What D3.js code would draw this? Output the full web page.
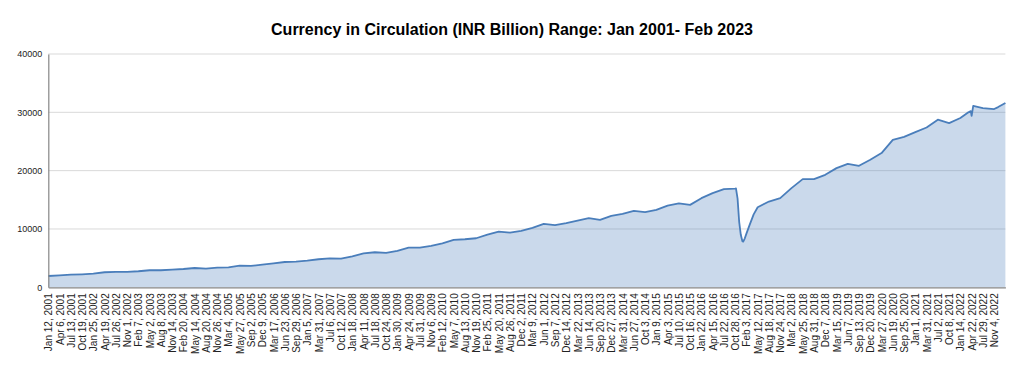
<!DOCTYPE html>
<html>
<head>
<meta charset="utf-8">
<script src="https://cdn.jsdelivr.net/npm/d3@7"></script>
<style>
  body { margin: 0; background: #fff; }
  text { font-family: "Liberation Sans", Arial, sans-serif; }
</style>
</head>
<body>
<div id="chart"></div>
<script>
// category labels shown on the x axis (every 14th week)
const tickLabels = [
  "Jan 12, 2001","Apr 6, 2001","Jul 13, 2001","Oct 19, 2001","Jan 25, 2002","Apr 19, 2002",
  "Jul 26, 2002","Nov 1, 2002","Feb 7, 2003","May 2, 2003","Aug 8, 2003","Nov 14, 2003",
  "Feb 20, 2004","May 14, 2004","Aug 20, 2004","Nov 26, 2004","Mar 4, 2005","May 27, 2005",
  "Sep 2, 2005","Dec 9, 2005","Mar 17, 2006","Jun 23, 2006","Sep 29, 2006","Jan 5, 2007",
  "Mar 31, 2007","Jul 6, 2007","Oct 12, 2007","Jan 18, 2008","Apr 11, 2008","Jul 18, 2008",
  "Oct 24, 2008","Jan 30, 2009","Apr 24, 2009","Jul 31, 2009","Nov 6, 2009","Feb 12, 2010",
  "May 7, 2010","Aug 13, 2010","Nov 19, 2010","Feb 25, 2011","May 20, 2011","Aug 26, 2011",
  "Dec 2, 2011","Mar 9, 2012","Jun 1, 2012","Sep 7, 2012","Dec 14, 2012","Mar 22, 2013",
  "Jun 14, 2013","Sep 20, 2013","Dec 27, 2013","Mar 31, 2014","Jun 27, 2014","Oct 3, 2014",
  "Jan 9, 2015","Apr 3, 2015","Jul 10, 2015","Oct 16, 2015","Jan 22, 2016","Apr 15, 2016",
  "Jul 22, 2016","Oct 28, 2016","Feb 3, 2017","May 12, 2017","Aug 18, 2017","Nov 24, 2017",
  "Mar 2, 2018","May 25, 2018","Aug 31, 2018","Dec 7, 2018","Mar 15, 2019","Jun 7, 2019",
  "Sep 13, 2019","Dec 20, 2019","Mar 27, 2020","Jun 19, 2020","Sep 25, 2020","Jan 1, 2021",
  "Mar 31, 2021","Jul 2, 2021","Oct 8, 2021","Jan 14, 2022","Apr 22, 2022","Jul 29, 2022",
  "Nov 4, 2022"
];
const lastDate = "Feb 10, 2023";

// currency in circulation, INR billion
const seriesDates = [
  "Jan 12, 2001","Apr 6, 2001","Jul 13, 2001","Oct 19, 2001","Jan 25, 2002","Apr 19, 2002",
  "Jul 26, 2002","Nov 1, 2002","Feb 7, 2003","May 2, 2003","Aug 8, 2003","Nov 14, 2003",
  "Feb 20, 2004","May 14, 2004","Aug 20, 2004","Nov 26, 2004","Mar 4, 2005","May 27, 2005",
  "Sep 2, 2005","Dec 9, 2005","Mar 17, 2006","Jun 23, 2006","Sep 29, 2006","Jan 5, 2007",
  "Mar 31, 2007","Jul 6, 2007","Oct 12, 2007","Jan 18, 2008","Apr 11, 2008","Jul 18, 2008",
  "Oct 24, 2008","Jan 30, 2009","Apr 24, 2009","Jul 31, 2009","Nov 6, 2009","Feb 12, 2010",
  "May 7, 2010","Aug 13, 2010","Nov 19, 2010","Feb 25, 2011","May 20, 2011","Aug 26, 2011",
  "Dec 2, 2011","Mar 9, 2012","Jun 1, 2012","Sep 7, 2012","Dec 14, 2012","Mar 22, 2013",
  "Jun 14, 2013","Sep 20, 2013","Dec 27, 2013","Mar 31, 2014","Jun 27, 2014","Oct 3, 2014",
  "Jan 9, 2015","Apr 3, 2015","Jul 10, 2015","Oct 16, 2015","Jan 22, 2016","Apr 15, 2016",
  "Jul 22, 2016","Oct 28, 2016","Nov 4, 2016","Nov 18, 2016","Dec 2, 2016","Dec 16, 2016",
  "Dec 30, 2016","Jan 6, 2017","Jan 20, 2017","Feb 3, 2017","Mar 3, 2017","Apr 7, 2017",
  "May 12, 2017","Aug 18, 2017","Nov 24, 2017","Mar 2, 2018","May 25, 2018","Aug 31, 2018",
  "Dec 7, 2018","Mar 15, 2019","Jun 7, 2019","Sep 13, 2019","Dec 20, 2019","Mar 27, 2020",
  "Jun 19, 2020","Sep 25, 2020","Jan 1, 2021","Mar 31, 2021","Jul 2, 2021","Oct 8, 2021",
  "Jan 14, 2022","Mar 25, 2022","Apr 15, 2022","Apr 22, 2022","May 6, 2022","Jul 29, 2022",
  "Nov 4, 2022","Dec 9, 2022","Feb 10, 2023"
];
const seriesValues = [
  1940, 2060, 2160, 2230, 2340, 2580,
  2630, 2630, 2750, 2920, 2920, 3030,
  3140, 3310, 3200, 3370, 3430, 3710,
  3660, 3880, 4120, 4340, 4400, 4570,
  4810, 4950, 4910, 5320, 5800, 6010,
  5890, 6230, 6800, 6800, 7090, 7550,
  8120, 8240, 8410, 9030, 9550, 9370,
  9670, 10180, 10870, 10650, 10990, 11440,
  11850, 11550, 12240, 12590, 13100, 12880,
  13270, 14010, 14400, 14130, 15280, 16140,
  16830, 16930, 16950, 15200, 11200, 9000,
  7900, 7830, 8400, 9200, 10700, 12500,
  13730, 14700, 15280, 17000, 18540, 18540,
  19280, 20430, 21170, 20830, 21860, 23010,
  25290, 25800, 26610, 27400, 28730, 28160,
  29020, 30000, 30200, 29400, 31100, 30730,
  30560, 30900, 31590
];

const yTicks = [0, 10000, 20000, 30000, 40000];

const parse = d3.timeParse("%b %d, %Y");
const data = seriesDates.map((d, i) => ({ date: parse(d), value: seriesValues[i] }));

const width = 1024, height = 370;
const plotLeft = 48.3, plotRight = 1005.4, plotTop = 54, plotBottom = 287.3;

const svg = d3.select("#chart").append("svg")
  .attr("width", width)
  .attr("height", height);

// category axis: labels are evenly spaced, so map through a piecewise time scale
const axisDates = tickLabels.concat([lastDate]).map(parse);
const step = (plotRight - plotLeft) / tickLabels.length;
const x = d3.scaleTime()
  .domain(axisDates)
  .range(axisDates.map((d, i) => plotLeft + i * step));

const y = d3.scaleLinear()
  .domain([0, 40000])
  .range([plotBottom, plotTop]);

// gridlines
svg.append("g")
  .selectAll("line")
  .data(yTicks.filter(d => d > 0))
  .join("line")
  .attr("x1", plotLeft)
  .attr("x2", plotRight)
  .attr("y1", d => y(d))
  .attr("y2", d => y(d))
  .attr("stroke", "#d9d9d9")
  .attr("stroke-width", 1);

// area + line
const area = d3.area()
  .x(d => x(d.date))
  .y0(y(0))
  .y1(d => y(d.value));

const line = d3.line()
  .x(d => x(d.date))
  .y(d => y(d.value));

svg.append("path")
  .datum(data)
  .attr("d", area)
  .attr("fill", "#4f81bd")
  .attr("fill-opacity", 0.3);

svg.append("path")
  .datum(data)
  .attr("d", line)
  .attr("fill", "none")
  .attr("stroke", "#4a7ebb")
  .attr("stroke-width", 1.8)
  .attr("stroke-linejoin", "round");

// y axis
const yAxis = svg.append("g")
  .attr("transform", `translate(${plotLeft},0)`)
  .call(d3.axisLeft(y).tickValues(yTicks).tickSize(0).tickPadding(6).tickFormat(d3.format("d")));
yAxis.select(".domain").attr("stroke", "#868686").attr("stroke-width", 1.2);
yAxis.selectAll("text")
  .attr("fill", "#222")
  .style("font-size", "9px");

// x axis
const xAxis = svg.append("g")
  .attr("transform", `translate(0,${plotBottom})`)
  .call(d3.axisBottom(x)
    .tickValues(tickLabels.map(parse))
    .tickSize(0)
    .tickFormat((d, i) => tickLabels[i]));
xAxis.select(".domain").attr("stroke", "#868686").attr("stroke-width", 1.2);
xAxis.selectAll("text")
  .attr("fill", "#222")
  .style("font-size", "10px")
  .attr("text-anchor", "end")
  .attr("transform", "rotate(-90)")
  .attr("x", -6)
  .attr("y", 0)
  .attr("dy", "0.35em");

// title
svg.append("text")
  .attr("x", 512)
  .attr("y", 35)
  .attr("text-anchor", "middle")
  .style("font-size", "16px")
  .style("font-weight", "bold")
  .attr("fill", "#000")
  .text("Currency in Circulation (INR Billion) Range: Jan 2001- Feb 2023");
</script>
</body>
</html>
